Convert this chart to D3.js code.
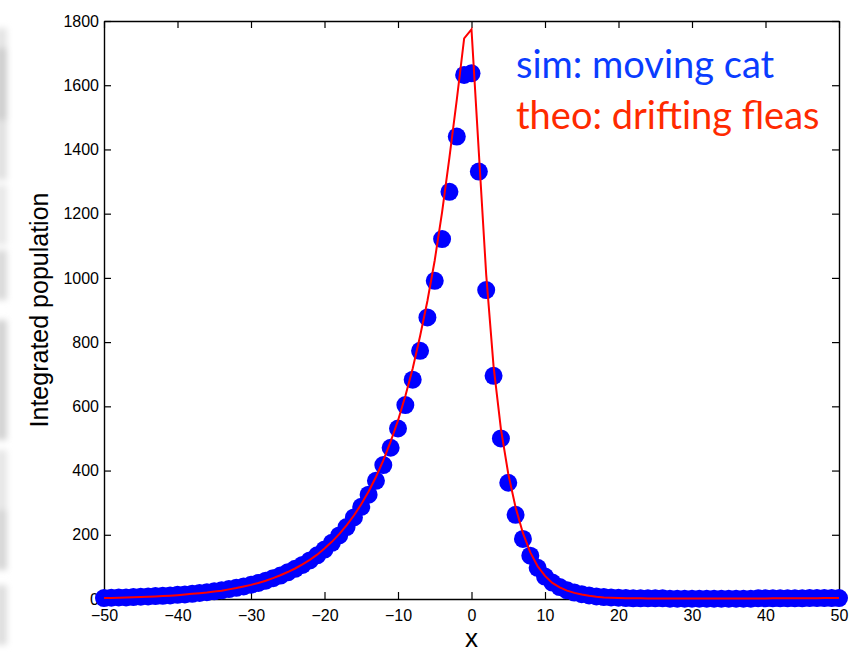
<!DOCTYPE html>
<html>
<head>
<meta charset="utf-8">
<script src="https://cdn.jsdelivr.net/npm/d3@7"></script>
<style>
  html, body { margin: 0; padding: 0; background: #fff; }
  svg { display: block; }
</style>
</head>
<body>
<svg id="chart" width="856" height="652"></svg>
<script>
// Grid positions x = -50 … 50 (one sample per unit)
const positions = d3.range(-50, 51);

// Simulated population ("sim: moving cat"), x = -50 … 50
const simValues = [
  3, 4, 5, 5, 6, 7, 8, 9, 10, 11,
  13, 14, 16, 19, 21, 24, 27, 31, 35, 39,
  44, 50, 57, 65, 73, 83, 94, 106, 120, 136,
  154, 175, 198, 224, 254, 287, 325, 368, 417, 471,
  531, 604, 683, 773, 877, 991, 1121, 1268, 1440, 1632,
  1637,
  1331, 962, 695, 500, 362, 262, 187, 135, 97, 70,
  51, 37, 27, 20, 15, 11, 8, 6, 5, 4,
  3, 2, 2, 2, 2, 2, 1, 1, 1, 1,
  1, 1, 1, 1, 1, 1, 1, 1, 2, 2,
  2, 2, 2, 2, 2, 3, 3, 3, 3, 3
];

// Theoretical curve ("theo: drifting fleas"), x = -50 … 50
const theoValues = [
  3, 3.5, 4, 5, 5.5, 6, 7, 8, 9, 10.5,
  12, 14, 16, 18, 20, 23, 26, 30, 34, 39,
  44, 50, 57, 65, 74, 84, 95, 108, 122, 138,
  157, 178, 202, 229, 260, 295, 335, 380, 432, 490,
  556, 632, 718, 818, 928, 1055, 1205, 1375, 1555, 1746,
  1774,
  1390, 1010, 725, 530, 390, 285, 205, 145, 102, 72,
  50, 36, 26, 19, 14, 10, 7, 5, 4, 3,
  2, 2, 2, 1.5, 1.5, 1.5, 1.5, 1.5, 1.5, 1.5,
  1.5, 1.5, 1.5, 1.5, 1.5, 1.5, 1.5, 1.5, 1.5, 1.5,
  2, 2, 2, 2, 2.5, 2.5, 2.5, 3, 3, 3
];

const xTicks = [-50, -40, -30, -20, -10, 0, 10, 20, 30, 40, 50];
const yTicks = [0, 200, 400, 600, 800, 1000, 1200, 1400, 1600, 1800];

const legendLabels = ["sim: moving cat", "theo: drifting fleas"];

const svg = d3.select("#chart");
const plot = { left: 104, right: 839, top: 21, bottom: 599 };

// Soft grey strip along the left edge of the image
const defs = svg.append("defs");
defs.append("filter").attr("id", "soft")
  .attr("x", "-50%").attr("y", "-20%").attr("width", "200%").attr("height", "140%")
  .append("feGaussianBlur").attr("stdDeviation", 3);
const strip = svg.append("g").attr("filter", "url(#soft)");
const stripBands = [
  [28, 60, "#e4e4e4"], [48, 72, "#cdcdcd"], [120, 60, "#e0e0e0"],
  [185, 60, "#e8e8e8"], [250, 50, "#d9d9d9"], [320, 120, "#d2d2d2"],
  [450, 60, "#e6e6e6"], [510, 60, "#d5d5d5"], [585, 60, "#dedede"]
];
strip.selectAll("rect").data(stripBands).join("rect")
  .attr("x", -4).attr("y", d => d[0]).attr("width", 11).attr("height", d => d[1])
  .attr("fill", d => d[2]);

const x = d3.scaleLinear().domain([-50, 50]).range([plot.left, plot.right]);
const y = d3.scaleLinear().domain([0, 1800]).range([plot.bottom, plot.top]);

const tickFont = "'Liberation Sans', Arial, Helvetica, sans-serif";
const intFmt = d3.format("d");
const xFmt = v => (v < 0 ? "\u2212" + Math.abs(v) : String(v));

// Axes with inward ticks on all four sides
const gx = svg.append("g").attr("transform", `translate(0,${plot.bottom})`)
  .call(d3.axisBottom(x).tickValues(xTicks).tickFormat(xFmt)
    .tickSizeInner(-7).tickSizeOuter(0).tickPadding(11));
const gy = svg.append("g").attr("transform", `translate(${plot.left},0)`)
  .call(d3.axisLeft(y).tickValues(yTicks).tickFormat(intFmt)
    .tickSizeInner(-7).tickSizeOuter(0).tickPadding(5));
const gt = svg.append("g").attr("transform", `translate(0,${plot.top})`)
  .call(d3.axisTop(x).tickValues(xTicks).tickSizeInner(-7).tickSizeOuter(0).tickFormat(""));
const gr = svg.append("g").attr("transform", `translate(${plot.right},0)`)
  .call(d3.axisRight(y).tickValues(yTicks).tickSizeInner(-7).tickSizeOuter(0).tickFormat(""));

[gx, gy, gt, gr].forEach(g => {
  g.selectAll("text").attr("font-family", tickFont).attr("font-size", 16).attr("fill", "#000");
  g.selectAll("line").attr("stroke", "#000").attr("stroke-width", 1.2);
  g.select(".domain").attr("stroke", "#000").attr("stroke-width", 1.4);
});

// Simulation markers
const points = positions.map((p, i) => ({ x: p, sim: simValues[i], theo: theoValues[i] }));
svg.append("g").selectAll("circle").data(points).join("circle")
  .attr("cx", d => x(d.x)).attr("cy", d => y(d.sim)).attr("r", 9)
  .attr("fill", "#0000ff");

// Theory curve
svg.append("path").datum(points)
  .attr("d", d3.line().x(d => x(d.x)).y(d => y(d.theo)))
  .attr("fill", "none").attr("stroke", "#ff0000").attr("stroke-width", 2)
  .attr("stroke-linejoin", "miter");

// Axis titles
svg.append("text")
  .attr("transform", `translate(48,${(plot.top + plot.bottom) / 2}) rotate(-90)`)
  .attr("text-anchor", "middle")
  .attr("font-family", tickFont).attr("font-size", 25)
  .text("Integrated population");
svg.append("text")
  .attr("x", x(0)).attr("y", 647).attr("text-anchor", "middle")
  .attr("font-family", tickFont).attr("font-size", 26)
  .text("x");

// Legend text
const legendFont = "Lato, 'Open Sans', sans-serif";
svg.append("text").attr("x", 516).attr("y", 78)
  .attr("font-family", legendFont).attr("font-size", 38).attr("fill", "#0a3cff")
  .text(legendLabels[0]);
svg.append("text").attr("x", 516).attr("y", 129)
  .attr("font-family", legendFont).attr("font-size", 38).attr("fill", "#ff2a00")
  .text(legendLabels[1]);
</script>
</body>
</html>
